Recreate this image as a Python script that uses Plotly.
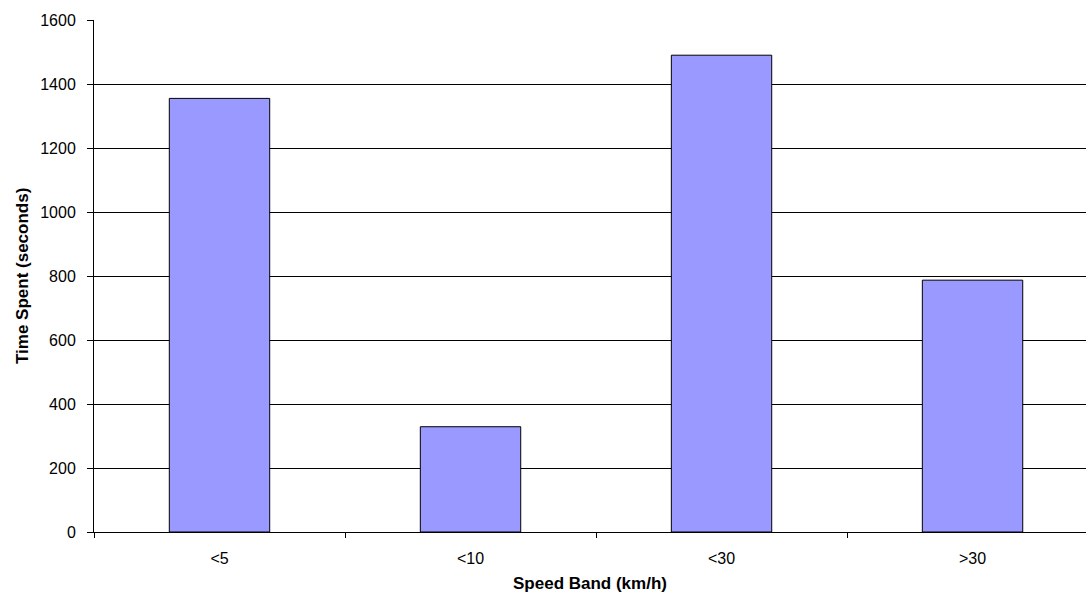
import plotly.graph_objects as go

categories = ["<5", "<10", "<30", ">30"]
time_spent = [1355, 329, 1490, 787]
y_ticks = [0, 200, 400, 600, 800, 1000, 1200, 1400, 1600]
x_title = "Speed Band (km/h)"
y_title = "Time Spent (seconds)"

FONT = "Liberation Sans, Arial, sans-serif"

fig = go.Figure()
fig.add_trace(go.Bar(
    x=categories, y=time_spent,
    marker=dict(color="#9999FF", line=dict(color="#000000", width=1)),
    width=0.40,
))

fig.update_layout(
    width=1086, height=594,
    margin=dict(l=94, r=0, t=20, b=62),
    paper_bgcolor="white", plot_bgcolor="white",
    font=dict(family=FONT, size=16, color="black"),
    showlegend=False,
)
fig.update_xaxes(
    automargin=False,
    range=[-0.5, 3.452],
    showgrid=False, showline=True, linecolor="black", linewidth=1,
    ticks="outside", tickson="boundaries", ticklen=5, tickcolor="black",
    ticklabelstandoff=12,
    tickfont=dict(size=16),
)
fig.update_yaxes(
    automargin=False,
    range=[0, 1600], tickvals=y_ticks,
    showgrid=True, gridcolor="black", gridwidth=1,
    showline=True, linecolor="black", linewidth=1,
    ticks="outside", ticklen=6, tickcolor="black",
    ticklabelstandoff=8,
    zeroline=False,
    tickfont=dict(size=16),
)
fig.add_annotation(
    text="<b>" + x_title + "</b>", xref="paper", yref="paper",
    x=0, xshift=496, y=0, yshift=-51, yanchor="middle", xanchor="center",
    showarrow=False, font=dict(family=FONT, size=17),
)
fig.add_annotation(
    text="<b>" + y_title + "</b>", xref="paper", yref="paper",
    x=0, xshift=-72, y=0.5, xanchor="center", yanchor="middle",
    textangle=-90, showarrow=False, font=dict(family=FONT, size=17),
)

fig.write_html(
    "out.html",
    config={"displayModeBar": False},
    post_script="document.body.style.margin='0';document.body.style.overflow='hidden';",
)
